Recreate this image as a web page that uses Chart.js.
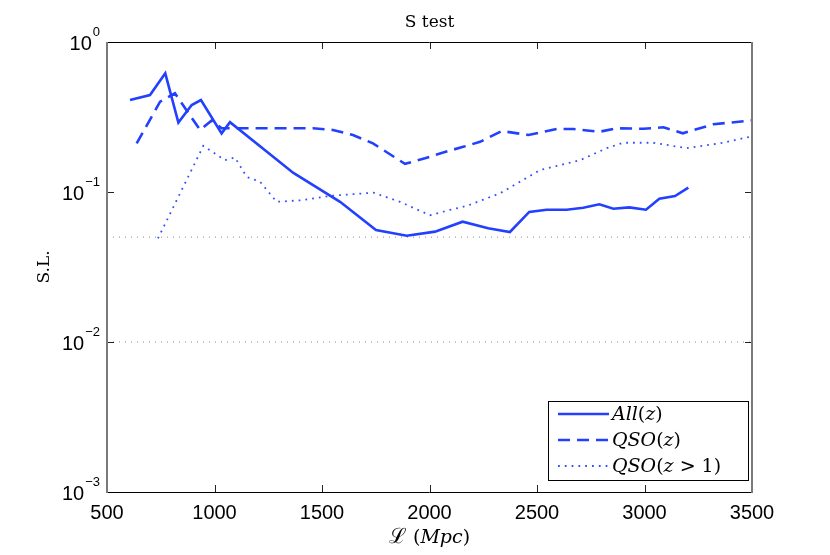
<!DOCTYPE html>
<html>
<head>
<meta charset="utf-8">
<script src="https://cdn.jsdelivr.net/npm/chart.js@4.4.1/dist/chart.umd.min.js"></script>
<style>
  html, body { margin: 0; padding: 0; background: #fff; }
  #wrap { width: 830px; height: 555px; }
</style>
</head>
<body>
<div id="wrap"><canvas id="grafico" width="830" height="555"></canvas></div>
<script>
// valores
const allX = [607, 700, 771, 832, 894, 937, 1033, 1072, 1367, 1584, 1751, 1894, 2026, 2154, 2273, 2374, 2464, 2545, 2638, 2715, 2790, 2855, 2929, 3007, 3069, 3142, 3204];
const allY = [0.41, 0.443, 0.618, 0.29, 0.38, 0.41, 0.246, 0.292, 0.134, 0.086, 0.0558, 0.0511, 0.0544, 0.0634, 0.0573, 0.0541, 0.0736, 0.0762, 0.0762, 0.0786, 0.0828, 0.0774, 0.079, 0.0762, 0.0902, 0.094, 0.107];

const qsoX = [638, 747, 816, 933, 987, 1033, 1100, 1458, 1551, 1644, 1737, 1886, 1979, 2095, 2157, 2235, 2336, 2460, 2592, 2669, 2790, 2871, 2995, 3088, 3178, 3320, 3500];
const qsoY = [0.211, 0.40, 0.455, 0.259, 0.30, 0.266, 0.266, 0.266, 0.259, 0.24, 0.211, 0.154, 0.168, 0.189, 0.20, 0.216, 0.255, 0.24, 0.263, 0.263, 0.252, 0.266, 0.264, 0.27, 0.246, 0.283, 0.30];

const qso1X = [737, 948, 1049, 1095, 1150, 1212, 1289, 1398, 1551, 1739, 1863, 2002, 2095, 2173, 2328, 2514, 2700, 2824, 2901, 3041, 3196, 3351, 3500];
const qso1Y = [0.049, 0.203, 0.163, 0.17, 0.126, 0.117, 0.086, 0.088, 0.0945, 0.099, 0.086, 0.07, 0.076, 0.0807, 0.098, 0.14, 0.163, 0.196, 0.213, 0.213, 0.196, 0.211, 0.235];

const refNivel = [0.05, 0.01];
const xTicks = [500, 1000, 1500, 2000, 2500, 3000, 3500];
const yExp = [0, -1, -2, -3];

// rotulos da legenda: [texto, italico?]
const legendaPartes = [
  [["All", true], ["(", false], ["z", true], [")", false]],
  [["QSO", true], ["(", false], ["z", true], [")", false]],
  [["QSO", true], ["(", false], ["z", true], [" > 1)", false]]
];

const azul = "#2340ff";

function pontos(xs, ys) {
  return xs.map((x, i) => ({ x, y: ys[i] }));
}

const datasets = [
  { label: "All(z)", data: pontos(allX, allY), borderColor: azul, borderWidth: 2.6, borderDash: [] },
  { label: "QSO(z)", data: pontos(qsoX, qsoY), borderColor: azul, borderWidth: 2.6, borderDash: [12, 7] },
  { label: "QSO(z > 1)", data: pontos(qso1X, qso1Y), borderColor: "#3550ff", borderWidth: 1.8, borderDash: [1.8, 5] }
];

refNivel.forEach(v => {
  datasets.push({
    label: "ref",
    data: [{ x: 500, y: v }, { x: 3500, y: v }],
    borderColor: "#8c8c8c",
    borderWidth: 1,
    borderDash: [1, 5]
  });
});

const serif = "'DejaVu Serif'";

const moldura = {
  id: "moldura",
  afterDraw(chart) {
    const ctx = chart.ctx;
    const a = chart.chartArea;
    const xs = chart.scales.x;
    const ys = chart.scales.y;

    ctx.save();
    // ticks para dentro
    ctx.strokeStyle = "#222";
    ctx.lineWidth = 1;
    xTicks.forEach(t => {
      const px = Math.round(xs.getPixelForValue(t)) + 0.5;
      ctx.beginPath();
      ctx.moveTo(px, a.bottom); ctx.lineTo(px, a.bottom - 7);
      ctx.moveTo(px, a.top); ctx.lineTo(px, a.top + 7);
      ctx.stroke();
    });
    yExp.forEach(e => {
      const py = Math.round(ys.getPixelForValue(Math.pow(10, e))) + 0.5;
      ctx.beginPath();
      ctx.moveTo(a.left, py); ctx.lineTo(a.left + 7, py);
      ctx.moveTo(a.right, py); ctx.lineTo(a.right - 7, py);
      ctx.stroke();
    });

    // caixa
    ctx.strokeStyle = "#000";
    ctx.lineWidth = 1;
    ctx.beginPath();
    ctx.moveTo(a.left, a.top + 0.5); ctx.lineTo(a.right, a.top + 0.5);
    ctx.moveTo(a.left, a.bottom + 0.5); ctx.lineTo(a.right, a.bottom + 0.5);
    ctx.stroke();
    ctx.strokeStyle = "#7a7a7a";
    ctx.lineWidth = 2;
    ctx.beginPath();
    ctx.moveTo(a.left, a.top); ctx.lineTo(a.left, a.bottom + 1);
    ctx.moveTo(a.right, a.top); ctx.lineTo(a.right, a.bottom + 1);
    ctx.stroke();

    // rotulos do eixo y: 10^e
    ctx.fillStyle = "#000";
    ctx.textBaseline = "alphabetic";
    yExp.forEach(e => {
      const py = ys.getPixelForValue(Math.pow(10, e));
      ctx.font = "13px 'Liberation Sans'";
      const sup = e === 0 ? "0" : "\u2212" + (-e);
      const wSup = ctx.measureText(sup).width;
      ctx.font = "20px 'Liberation Sans'";
      const wBase = ctx.measureText("10").width;
      const x0 = a.left - 8 - wSup - wBase;
      ctx.fillText("10", x0, py + 8);
      ctx.font = "13px 'Liberation Sans'";
      ctx.fillText(sup, x0 + wBase + 1, py - 6);
    });

    // titulo
    ctx.textAlign = "center";
    ctx.font = "17px " + serif;
    ctx.fillText("S test", (a.left + a.right) / 2, 27);

    // titulo eixo y
    ctx.save();
    ctx.translate(49, (a.top + a.bottom) / 2);
    ctx.rotate(-Math.PI / 2);
    ctx.font = "17px " + serif;
    ctx.fillText("S.L.", 0, 0);
    ctx.restore();

    // titulo eixo x
    const partes = [
      ["\u2112", "21px " + serif],
      [" (", "19px " + serif],
      ["Mpc", "italic 19px " + serif],
      [")", "19px " + serif]
    ];
    let total = 0;
    partes.forEach(p => { ctx.font = p[1]; total += ctx.measureText(p[0]).width; });
    let cx = (a.left + a.right) / 2 - total / 2;
    ctx.textAlign = "left";
    partes.forEach(p => {
      ctx.font = p[1];
      ctx.fillText(p[0], cx, 543);
      cx += ctx.measureText(p[0]).width;
    });

    // legenda
    const lx = 548, ly = 401, lw = 200, lh = 79;
    ctx.fillStyle = "#fff";
    ctx.fillRect(lx, ly, lw, lh);
    ctx.strokeStyle = "#000";
    ctx.lineWidth = 1;
    ctx.strokeRect(lx + 0.5, ly + 0.5, lw, lh);
    chart.data.datasets.slice(0, 3).forEach((ds, i) => {
      const yy = ly + 13 + i * 26;
      ctx.strokeStyle = ds.borderColor;
      ctx.lineWidth = ds.borderWidth;
      ctx.setLineDash(ds.borderDash);
      ctx.beginPath();
      ctx.moveTo(lx + 10, yy); ctx.lineTo(lx + 61, yy);
      ctx.stroke();
      ctx.setLineDash([]);
      ctx.fillStyle = "#000";
      ctx.textBaseline = "middle";
      let tx = lx + 64;
      legendaPartes[i].forEach(p => {
        ctx.font = (p[1] ? "italic " : "") + "19px " + serif;
        ctx.fillText(p[0], tx, yy + 1);
        tx += ctx.measureText(p[0]).width;
      });
    });
    ctx.restore();
  }
};

new Chart(document.getElementById("grafico"), {
  type: "line",
  data: { datasets },
  options: {
    responsive: false,
    animation: false,
    layout: { padding: { left: 0, right: 78, top: 42, bottom: 0 } },
    elements: { point: { radius: 0 }, line: { tension: 0, fill: false } },
    plugins: { legend: { display: false }, tooltip: { enabled: false } },
    scales: {
      x: {
        type: "linear",
        min: 500,
        max: 3500,
        grid: { display: false, drawTicks: false },
        border: { display: false },
        afterBuildTicks: s => { s.ticks = xTicks.map(v => ({ value: v })); },
        afterFit: s => { s.height = 63; },
        ticks: {
          color: "#000",
          padding: 9,
          maxRotation: 0,
          autoSkip: false,
          callback: v => String(v),
          font: { family: "'Liberation Sans'", size: 20 }
        }
      },
      y: {
        type: "logarithmic",
        min: 0.001,
        max: 1,
        grid: { display: false, drawTicks: false },
        border: { display: false },
        afterBuildTicks: s => { s.ticks = yExp.map(e => ({ value: Math.pow(10, e) })); },
        afterFit: s => { s.width = 107; },
        ticks: { callback: () => "" }
      }
    }
  },
  plugins: [moldura]
});
</script>
</body>
</html>
